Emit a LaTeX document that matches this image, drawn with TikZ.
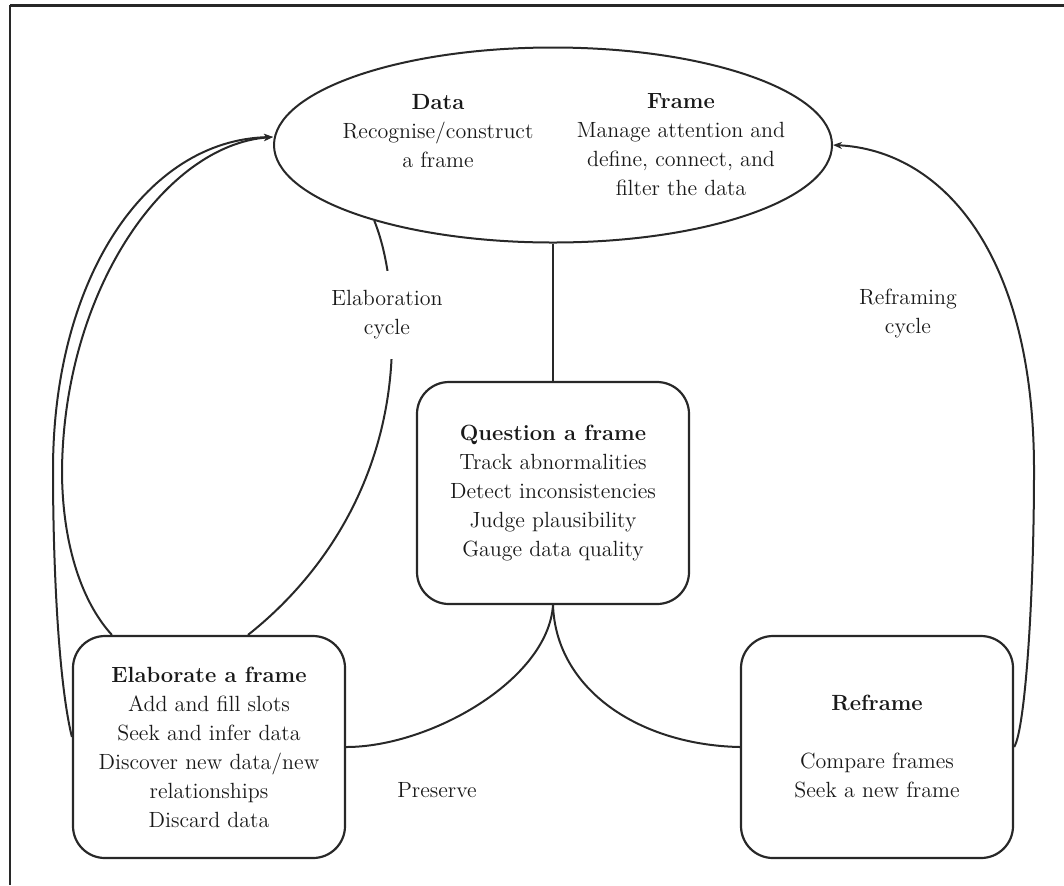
\documentclass[tikz,border=0pt]{standalone}
\usepackage{fontspec}
\usetikzlibrary{arrows.meta,calc,shapes.geometric}
\definecolor{ink}{RGB}{40,40,40}
\definecolor{txt}{RGB}{25,25,25}
\begin{document}
\begin{tikzpicture}[x=0.5pt,y=-0.5pt,
  every node/.style={font=\rmfamily\fontsize{11}{14.5}\selectfont, text=txt},
  box/.style={draw=ink, line width=1.1pt, rounded corners=16pt,
    minimum width=136pt, minimum height=111pt, align=center, inner sep=0pt},
  link/.style={draw=ink, line width=1pt},
  tip/.style={-{Stealth[length=4.5pt,width=3.5pt]}},
  lbl/.style={align=center}]
\useasboundingbox (0,0) rectangle (1064,885);

% page frame (top and left rules)
\draw[ink, line width=1.5pt] (10,5.5) -- (1064,5.5);
\draw[ink, line width=1pt] (10,5) -- (10,885);

% central data/frame ellipse
\node[ellipse, draw=ink, line width=1pt, minimum width=279pt,
      minimum height=97.5pt, inner sep=0pt] (ell) at (553,145) {};
\node[lbl] (data) at (438,131) {\textbf{Data}\\Recognise/construct\\a frame};
\node[lbl] (frame) at (681,145) {\textbf{Frame}\\Manage attention and\\define, connect, and\\filter the data};

% activity boxes
\node[box] (q) at (553,493) {\textbf{Question a frame}\\Track abnormalities\\Detect inconsistencies\\Judge plausibility\\Gauge data quality};
\node[box] (elab) at (209,747) {\textbf{Elaborate a frame}\\Add and fill slots\\Seek and infer data\\Discover new data/new\\relationships\\Discard data};
\node[box] (ref) at (877,747) {\textbf{Reframe}\\[14.5pt]Compare frames\\Seek a new frame};

% end points on the ellipse and boxes
\coordinate (inL) at ($(ell.west)+(0,-8)$);
\coordinate (elabTopL) at ($(elab.north west)+(40,0)$);
\coordinate (elabTopR) at ($(elab.north)+(39,0)$);
\coordinate (elabSide) at ($(elab.west)+(0,-10)$);

% connectors
\draw[link] (ell.south) -- (q.north);
\draw[link] (q.south) .. controls (548,680) and (430,747) .. (elab.east);
\draw[link] (q.south) .. controls (556,690) and (640,745) .. (ref.west);
\draw[link] (ell.203.4) .. controls (388,255) and (393,300) .. (392,345)
  .. controls (390,470) and (330,570) .. (elabTopR);
\draw[link,tip] (elabTopL) .. controls (80,600) and (62,540) .. (62,470)
  .. controls (64,290) and (165,145) .. (inL);
\draw[link,tip] (elabSide) .. controls (58,680) and (53,560) .. (53,470)
  .. controls (53,280) and (145,140) .. (inL);
\draw[link,tip] (ref.east) .. controls (1025,730) and (1034,600) .. (1034,470)
  .. controls (1034,250) and (940,150) .. (ell.east);

% cycle labels
\node[lbl, fill=white, inner xsep=3pt, inner ysep=10pt] (elabcyc) at (387,315) {Elaboration\\cycle};
\node[lbl] (refcyc) at (908,313) {Reframing\\cycle};
\node (pres) at (437,790) {Preserve};
\end{tikzpicture}
\end{document}
